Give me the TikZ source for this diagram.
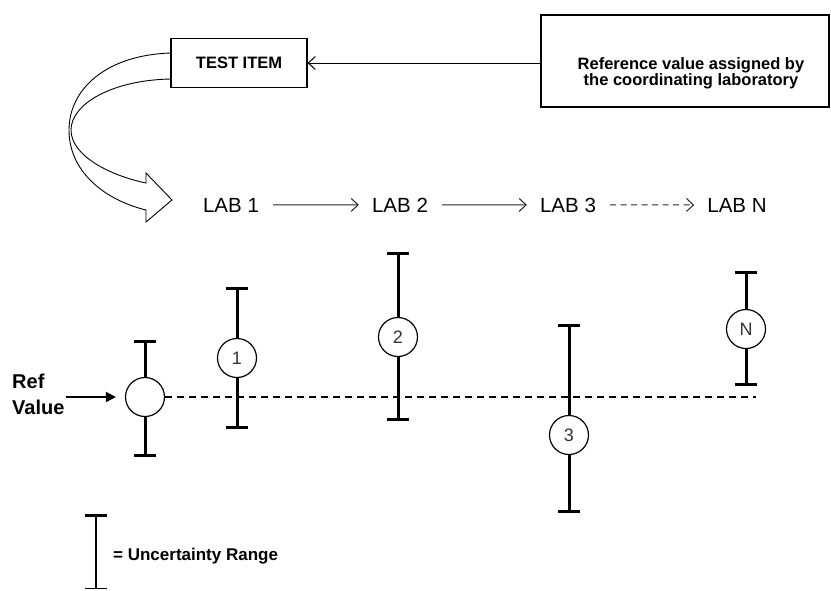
\documentclass[tikz,border=0pt]{standalone}
\usepackage{fontspec}
\setmainfont{Liberation Sans}
\usetikzlibrary{arrows.meta}

\tikzset{
  boxnode/.style={draw, line width=1.2pt, inner sep=0pt},
  labtxt/.style={font=\fontsize{20.5}{24}\selectfont, inner sep=0pt, anchor=base},
  flow/.style={line width=1pt, draw=black!85, -{Straight Barb[length=7pt,width=13pt]}, shorten <=14pt, shorten >=13pt},
  ebar/.style={line width=3pt, {Bar[width=22pt]}-{Bar[width=22pt]}},
  labdot/.style={circle, draw, fill=white, line width=1.2pt, minimum size=39pt, inner sep=0pt, font=\fontsize{18}{18}\selectfont, text=black!80},
}

\begin{document}
\begin{tikzpicture}[x=1pt,y=-1pt]
    \useasboundingbox (0,0) rectangle (831,590);
    %\draw[gray] (0,0) grid[step=50] (831,590);

    \node[boxnode, minimum width=136pt, minimum height=49pt, font=\bfseries\fontsize{16.5}{18}\selectfont] (item) at (239,63) {TEST ITEM};
    \node[boxnode, minimum width=288pt, minimum height=92pt] (refbox) at (685,61) {};
    \node[align=center, font=\bfseries\fontsize{16.5}{16}\selectfont] (reftxt) at (691,73) {Reference value assigned by\\the coordinating laboratory};
    \draw[line width=1pt, -{Straight Barb[length=7pt,width=13pt]}] (refbox.west |- item.east) -- (item.east);

    % curved hand-over arrow
    \draw[line width=0.9pt, line join=miter] (171,53) .. controls (105,55) and (69,90) .. (69,130)
        .. controls (69,172) and (105,200) .. (146,210) -- (146,222) -- (172,200) -- (146,173) -- (146,183)
        .. controls (108,175) and (71,155) .. (71,130) .. controls (71,104) and (112,80) .. (171,79);

    \node[labtxt] (lab1) at (231,212) {LAB 1};
    \node[labtxt] (lab2) at (400,212) {LAB 2};
    \node[labtxt] (lab3) at (568,212) {LAB 3};
    \node[labtxt] (labn) at (737,212) {LAB N};
    \draw[flow] (lab1) -- (lab2);
    \draw[flow] (lab2) -- (lab3);
    \draw[flow, dash pattern=on 6pt off 4.5pt] (lab3) -- (labn);

    % reference value
    \draw[ebar] (145,340) -- (145,457);
    \node[labdot] (cref) at (145,397) {};
    \coordinate (dashend) at (756,397);
    \draw[line width=1.3pt, dash pattern=on 7pt off 5pt] (cref.east) -- (dashend);
    \node[align=left, font=\bfseries\fontsize{20}{26}\selectfont, inner sep=1pt, anchor=west] (refval) at (11,394) {Ref\\Value};
    \draw[line width=1.8pt, -{Triangle[length=10pt,width=10pt]}, shorten >=9pt] (refval.east |- cref) -- (cref.west);

    % lab results
    \draw[ebar] (237,287) -- (237,429);
    \node[labdot] (c1) at (237,358) {1};
    \draw[ebar] (398,252) -- (398,421);
    \node[labdot] (c2) at (398,337) {2};
    \draw[ebar] (569,324) -- (569,513);
    \node[labdot] (c3) at (569,435) {3};
    \draw[ebar] (746,271) -- (746,386);
    \node[labdot] (cn) at (746,329) {N};

    % legend
    \coordinate (legtop) at (96,514);
    \coordinate (legbot) at (96,589);
    \draw[line width=1.5pt, {Bar[width=22pt,line width=3pt]}-{Bar[width=22pt]}] (legtop) -- (legbot);
    \node[anchor=west, font=\bfseries\fontsize{17}{20}\selectfont, inner sep=0pt] (legtxt) at (113,556) {= Uncertainty Range};
\end{tikzpicture}
\end{document}
